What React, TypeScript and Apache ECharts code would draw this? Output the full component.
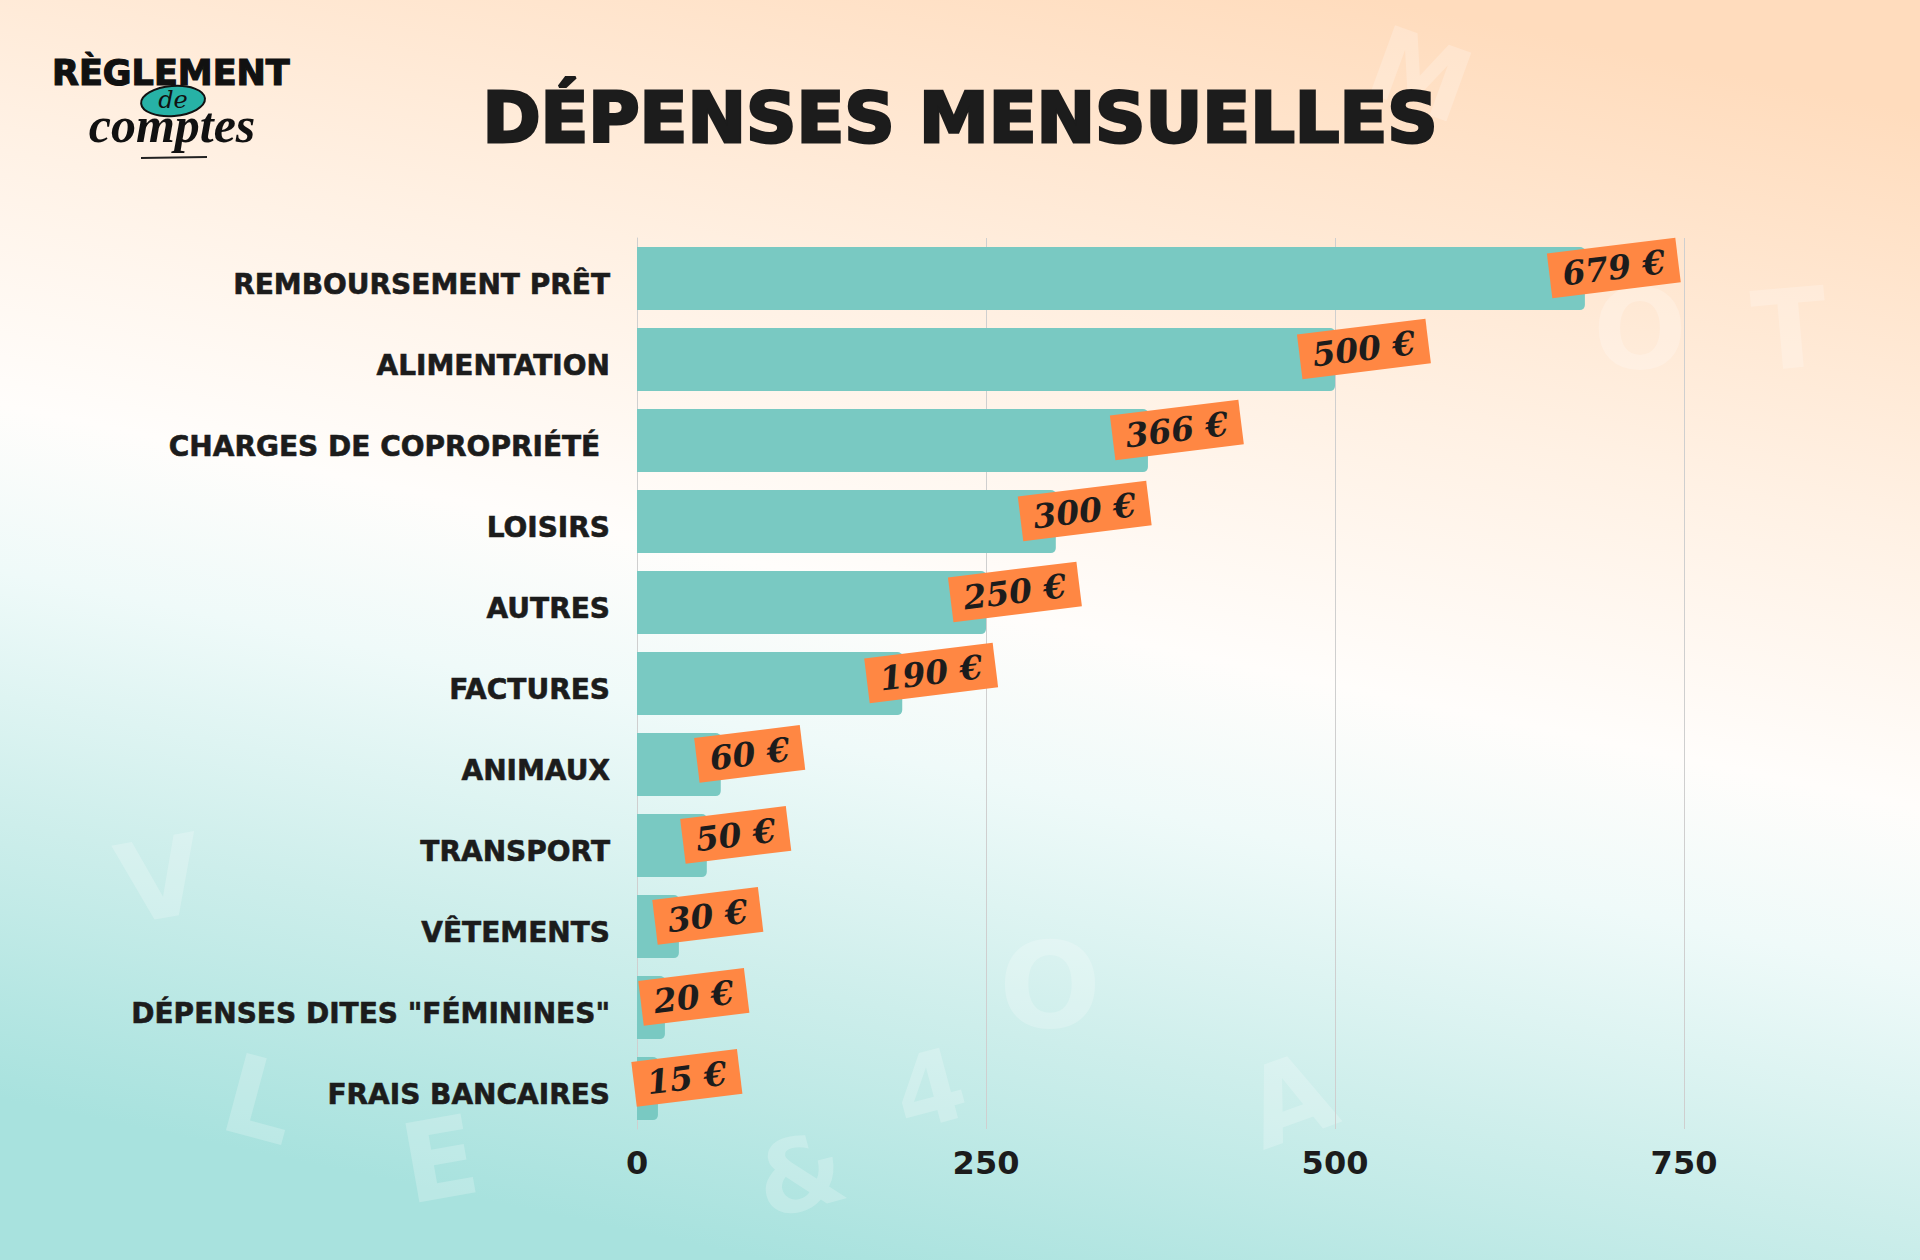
import React, { useEffect, useRef } from "react";
import * as echarts from "echarts";

const categories = [
  "REMBOURSEMENT PRÊT",
  "ALIMENTATION",
  "CHARGES DE COPROPRIÉTÉ ",
  "LOISIRS",
  "AUTRES",
  "FACTURES",
  "ANIMAUX",
  "TRANSPORT",
  "VÊTEMENTS",
  'DÉPENSES DITES "FÉMININES"',
  "FRAIS BANCAIRES",
];
const values = [679, 500, 366, 300, 250, 190, 60, 50, 30, 20, 15];
const axisMin = 0;
const axisMax = 750;
const axisInterval = 250;

const titleText = "DÉPENSES MENSUELLES";

const SANS = "DejaVu Sans";
const SERIF = "DejaVu Serif";
const INK = "#1c1c1c";

const decoLetters = [
  { t: "M", x: 1420, y: 75, r: -20, s: 100 },
  { t: "O", x: 1640, y: 330, r: 0, s: 110 },
  { t: "T", x: 1790, y: 330, r: 5, s: 110 },
  { t: "E", x: 440, y: 1160, r: 10, s: 110 },
  { t: "L", x: 260, y: 1100, r: -15, s: 110 },
  { t: "O", x: 1050, y: 985, r: 0, s: 120 },
  { t: "&", x: 800, y: 1175, r: 15, s: 100 },
  { t: "A", x: 1290, y: 1100, r: 20, s: 110 },
  { t: "V", x: 160, y: 880, r: 10, s: 110 },
  { t: "4", x: 930, y: 1090, r: 15, s: 100 },
];

export default function App() {
  const ref = useRef<HTMLDivElement>(null);

  useEffect(() => {
    if (!ref.current) return;
    const chart = echarts.init(ref.current, null, {
      renderer: "svg",
      width: 1920,
      height: 1260,
    });

    const deco = decoLetters.map((d) => ({
      type: "text",
      x: d.x,
      y: d.y,
      rotation: (d.r * Math.PI) / 180,
      z: -5,
      silent: true,
      style: {
        text: d.t,
        fill: "rgba(255,255,255,0.22)",
        font: `bold ${d.s}px ${SANS}`,
        align: "center",
        verticalAlign: "middle",
      },
    }));

    const logo = [
      {
        type: "text",
        x: 52,
        y: 73,
        z: 10,
        style: {
          text: "RÈGLEMENT",
          font: `bold 35px ${SANS}`,
          fill: "#111",
          stroke: "#111",
          lineWidth: 1.2,
          verticalAlign: "middle",
          shadowColor: "rgba(255,140,70,0.9)",
          shadowBlur: 4,
        },
      },
      {
        type: "ellipse",
        z: 12,
        shape: { cx: 173, cy: 101, rx: 32, ry: 15 },
        rotation: 0.08,
        originX: 173,
        originY: 101,
        style: { fill: "#27b2a6", stroke: "#111", lineWidth: 2 },
      },
      {
        type: "text",
        x: 173,
        y: 100,
        z: 13,
        style: {
          text: "de",
          font: `italic 24px ${SERIF}`,
          fill: "#111",
          align: "center",
          verticalAlign: "middle",
        },
      },
      {
        type: "text",
        x: 172,
        y: 125,
        z: 11,
        style: {
          text: "comptes",
          font: `italic bold 50px "Liberation Serif"`,
          fill: "#111",
          align: "center",
          verticalAlign: "middle",
          shadowColor: "rgba(255,140,70,0.8)",
          shadowBlur: 4,
        },
      },
      {
        type: "line",
        z: 10,
        shape: { x1: 141, y1: 158, x2: 207, y2: 157 },
        style: { stroke: "#222", lineWidth: 2 },
      },
    ];

    const option = {
      animation: false,
      backgroundColor: {
        type: "linear",
        x: 0.72,
        y: 0,
        x2: 0.4,
        y2: 1,
        colorStops: [
          { offset: 0, color: "#ffdcbd" },
          { offset: 0.3, color: "#fff1e4" },
          { offset: 0.5, color: "#fffdfb" },
          { offset: 0.62, color: "#effaf9" },
          { offset: 0.8, color: "#cdeeeb" },
          { offset: 1, color: "#a8e2de" },
        ],
      },
      title: {
        text: titleText,
        left: "center",
        top: 78,
        textStyle: {
          fontFamily: SANS,
          fontSize: 70,
          lineHeight: 70,
          fontWeight: "bold",
          color: INK,
          textBorderColor: INK,
          textBorderWidth: 3,
        },
      },
      graphic: [...deco, ...logo],
      grid: { left: 637, right: 236, top: 238, bottom: 131, containLabel: false },
      xAxis: {
        type: "value",
        min: axisMin,
        max: axisMax,
        interval: axisInterval,
        axisLine: { show: false },
        axisTick: { show: false },
        splitLine: { lineStyle: { color: "#cfcfcf", width: 1 } },
        axisLabel: {
          margin: 18,
          fontFamily: SANS,
          fontSize: 32,
          fontWeight: "bold",
          color: INK,
        },
      },
      yAxis: {
        type: "category",
        inverse: true,
        data: categories,
        axisLine: { show: true, lineStyle: { color: "#cfcfcf", width: 1 } },
        axisTick: { show: false },
        axisLabel: {
          margin: 27,
          formatter: (v: string) => `{a|${v}}`,
          rich: {
            a: {
              padding: [12, 0, 0, 0],
              fontFamily: SANS,
              fontSize: 28,
              fontWeight: "bold",
              color: INK,
              textBorderColor: INK,
              textBorderWidth: 0.6,
            },
          },
        },
      },
      series: [
        {
          type: "bar",
          data: values,
          barCategoryGap: "22%",
          itemStyle: { color: "#79c9c2", borderRadius: [0, 5, 5, 0] },
          label: {
            show: true,
            position: "right",
            distance: 0,
            offset: [30, -7],
            align: "center",
            verticalAlign: "middle",
            rotate: 7,
            formatter: (p: any) => `${p.value} €`,
            backgroundColor: "#ff8743",
            padding: [5, 13, 4, 13],
            lineHeight: 36,
            fontFamily: SERIF,
            fontStyle: "italic",
            fontWeight: "bold",
            fontSize: 33,
            color: INK,
          },
        },
      ],
    };

    chart.setOption(option as any);
    return () => chart.dispose();
  }, []);

  return (
    <div
      ref={ref}
      style={{ position: "fixed", left: 0, top: 0, width: 1920, height: 1260 }}
    />
  );
}
